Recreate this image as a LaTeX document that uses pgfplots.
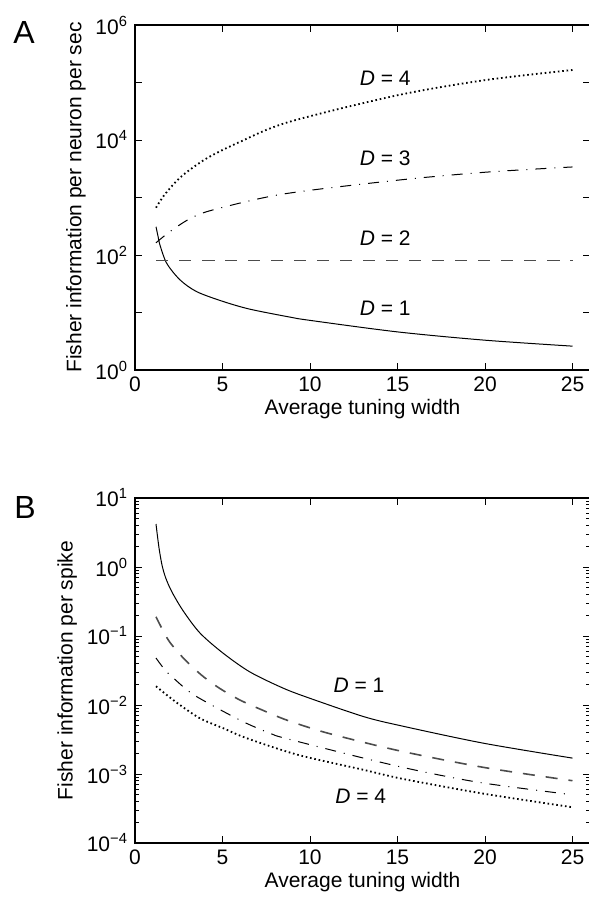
\documentclass[border=0pt]{standalone}
\usepackage{pgfplots}
\pgfplotsset{compat=1.18}
\usepackage{fontspec}
\setmainfont{Liberation Sans}

% panel A: Fisher information per neuron per sec
\pgfplotstableread{
x y
1.2 310
1.32 209
1.43 148
1.81 72
2.57 37
3.53 23
5.05 15.5
6.58 11.4
8.87 8.3
10 7.3
15 4.6
20 3.3
25 2.6
}\aone
\pgfplotstableread{
x y
1.2 80
25 80
}\atwo
\pgfplotstableread{
x y
1.2 163
2 256
3.15 430
4.47 610
8.48 1150
15 2000
20 2750
25 3400
}\athree
\pgfplotstableread{
x y
1.2 665
1.72 1150
2.67 2350
4.1 4800
6 9300
8.77 20500
15 60000
20 110000
25 165000
}\afour

% panel B: Fisher information per spike
\pgfplotstableread{
x y
1.2 4.2
1.3 2.6
1.4 1.7
1.55 1.05
1.75 0.7
2.1 0.44
2.76 0.23
3.72 0.11
5.05 0.056
6.58 0.030
8.48 0.0175
10 0.0125
13.06 0.0068
15.2 0.0050
19.9 0.0028
25 0.0017
}\bone
\pgfplotstableread{
x y
1.2 0.19
1.91 0.087
2.76 0.048
3.81 0.027
4.86 0.0173
6.0 0.0118
7.25 0.0085
8.48 0.0063
9.63 0.0050
11.2 0.0038
15 0.0022
19.9 0.00125
25 0.0008
}\btwo
\pgfplotstableread{
x y
1.2 0.048
1.72 0.032
2.29 0.0234
2.96 0.0166
3.53 0.0132
4.96 0.0083
6.39 0.0054
7.82 0.0038
8.58 0.0033
13.06 0.0017
16.3 0.0011
19.9 0.00074
25 0.0005
}\bthree
\pgfplotstableread{
x y
1.2 0.0187
1.81 0.014
2.57 0.010
3.72 0.0064
5.05 0.0046
6.39 0.0033
9.3 0.0019
13.06 0.00115
15.3 0.00085
19.9 0.00052
25 0.00033
}\bfour

\pgfplotsset{
  every axis/.append style={
    width=227.5pt, height=172.5pt, scale only axis,
    xmin=0, xmax=26,
    xtick={0,5,...,25},
    axis line style={line width=1pt},
    major tick length=3.5pt, minor tick length=1.8pt,
    xlabel={Average tuning width},
    /pgf/number format/assume math mode=true,
    tick label style={font=\fontsize{10.5}{12}\selectfont},
    label style={font=\fontsize{10.5}{12}\selectfont},
    xlabel style={yshift=3pt},
    ylabel style={yshift=-2pt},
    clip=false,
  },
  every tick/.append style={black, line width=0.5pt},
}
\tikzset{
  d1/.style={black, line width=0.5pt, smooth},
  d2/.style={black!70, line width=0.8pt, smooth, dash pattern=on 6pt off 5.5pt},
  d3/.style={black, line width=0.5pt, smooth, dash pattern=on 5.5pt off 4pt on 0.5pt off 4pt},
  d4/.style={black, line width=0.9pt, smooth, dash pattern=on 0.8pt off 1.4pt},
}

\begin{document}
\begin{tikzpicture}[font=\fontsize{10.5}{12}\selectfont]
\begin{axis}[name=A, at={(0,0)}, anchor=north west,
  ymode=log,
  ymin=1, ymax=1e6,
  ytick={1,10,100,1000,10000,100000,1000000},
  yticklabels={10\textsuperscript{0},,10\textsuperscript{2},,10\textsuperscript{4},,10\textsuperscript{6}},
  minor tick length=0pt,
  minor y tick style={draw=none},
  ylabel={Fisher information per neuron per sec},
]
\addplot[d1] table {\aone};
\addplot[d2] table {\atwo};
\addplot[d3] table {\athree};
\addplot[d4] table {\afour};
\node at (axis cs:14.3,1.2e5) {\textit{D} = 4};
\node at (axis cs:14.3,4.9e3) {\textit{D} = 3};
\node at (axis cs:14.3,197) {\textit{D} = 2};
\node at (axis cs:14.3,12) {\textit{D} = 1};
\end{axis}

\begin{axis}[name=B, at={(0,-236.5pt)}, anchor=north west,
  ymode=log,
  ymin=1e-4, ymax=10,
  ytick={1e-4,1e-3,1e-2,1e-1,1,10},
  yticklabels={10\textsuperscript{−4},10\textsuperscript{−3},10\textsuperscript{−2},10\textsuperscript{−1},10\textsuperscript{0},10\textsuperscript{1}},
  ylabel={Fisher information per spike},
]
\addplot[d1] table {\bone};
\addplot[d2] table {\btwo};
\addplot[d3] table {\bthree};
\addplot[d4] table {\bfour};
\node at (axis cs:12.8,0.0195) {\textit{D} = 1};
\node at (axis cs:12.9,4.7e-4) {\textit{D} = 4};
\end{axis}

\node[font=\fontsize{16}{18}\selectfont] at ([shift={(-55.5pt,-3.5pt)}]A.north west) {A};
\node[font=\fontsize{16}{18}\selectfont] at ([shift={(-55pt,-4.5pt)}]B.north west) {B};

\pgfresetboundingbox
\useasboundingbox ([shift={(-67.5pt,12.5pt)}]A.north west) rectangle ([shift={(-0.55pt,-28pt)}]B.south east);
\end{tikzpicture}
\end{document}
